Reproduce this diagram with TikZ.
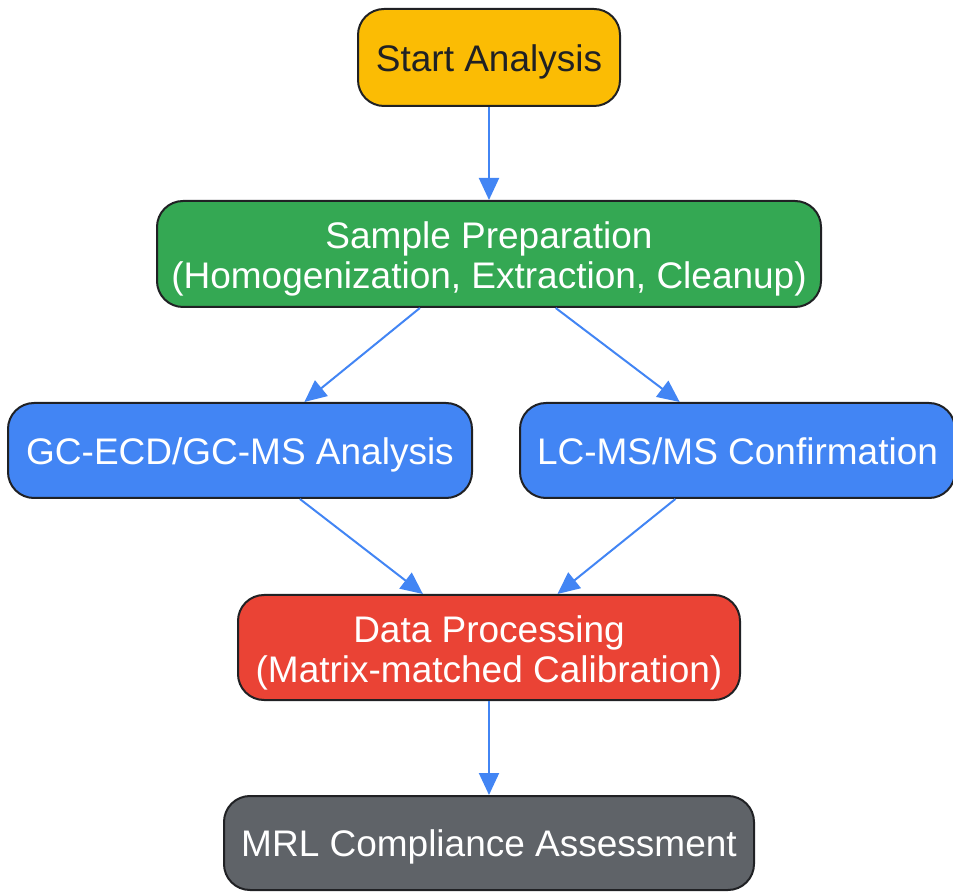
\documentclass[tikz,border=0pt]{standalone}
\usepackage{fontspec}
\setmainfont{Liberation Sans}
\usepackage{tikz}
\usetikzlibrary{arrows.meta}
\definecolor{startcol}{HTML}{FBBC04}
\definecolor{prepcol}{HTML}{34A853}
\definecolor{runcol}{HTML}{4285F4}
\definecolor{proccol}{HTML}{EA4335}
\definecolor{mrlcol}{HTML}{5F6368}
\definecolor{edgecol}{HTML}{202124}
\tikzset{
  every stage/.style={draw=edgecol,line width=1pt,rounded corners=13pt,
    align=center,inner sep=3pt,text=white,
    font=\fontsize{18.5}{20}\selectfont},
  one line/.style={text height=13.6pt,text depth=0pt},
  two lines/.style={text height=35pt,text depth=0pt},
  flow/.style={draw=runcol,line width=1pt,-{Triangle[length=11pt,width=10pt]}},
}
\begin{document}
\begin{tikzpicture}[x=0.5pt,y=-0.5pt]
\useasboundingbox (0,0) rectangle (953,892);
\node[every stage,one line,fill=startcol,text=edgecol,minimum width=131pt,minimum height=48.5pt]
  (start) at (489,57.5) {Start Analysis};
\node[every stage,two lines,fill=prepcol,minimum width=332pt,minimum height=53pt]
  (prep) at (489,254) {Sample Preparation\\(Homogenization, Extraction, Cleanup)};
\node[every stage,one line,fill=runcol,minimum width=232pt,minimum height=47.5pt]
  (gc) at (240,450.5) {GC-ECD/GC-MS Analysis};
\node[every stage,one line,fill=runcol,minimum width=217.5pt,minimum height=47.5pt]
  (lc) at (737.5,450.5) {LC-MS/MS Confirmation};
\node[every stage,two lines,fill=proccol,minimum width=251pt,minimum height=52.5pt]
  (proc) at (489,647.5) {Data Processing\\(Matrix-matched Calibration)};
\node[every stage,one line,fill=mrlcol,minimum width=265pt,minimum height=47pt]
  (mrl) at (489,843) {MRL Compliance Assessment};
\draw[flow] (start) -- (prep);
\draw[flow] (prep.218.8) -- (gc.37.6);
\draw[flow] (prep.321.2) -- (lc.140.8);
\draw[flow] (gc.321.6) -- (proc.141.8);
\draw[flow] (lc.218.6) -- (proc.38.2);
\draw[flow] (proc) -- (mrl);
\end{tikzpicture}
\end{document}
